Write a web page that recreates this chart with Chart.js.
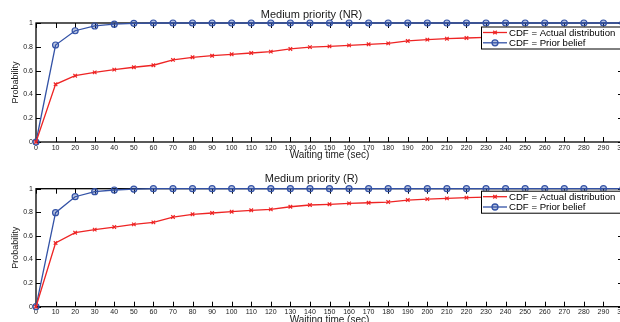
<!DOCTYPE html>
<html>
<head>
<meta charset="utf-8">
<script src="https://cdn.jsdelivr.net/npm/chart.js@4.4.1/dist/chart.umd.min.js"></script>
<style>
  html, body { margin: 0; padding: 0; background: #fff; }
  body { width: 620px; height: 322px; overflow: hidden; position: relative; }
  canvas { position: absolute; left: 0; }
  #chartNR { top: 0; }
  #chartR { top: 161px; }
</style>
</head>
<body>
<canvas id="chartNR" width="660" height="161"></canvas>
<canvas id="chartR" width="660" height="170"></canvas>
<script>
// waiting time (sec) on the x axis
const waitTimes = [0, 10, 20, 30, 40, 50, 60, 70, 80, 90, 100, 110, 120, 130, 140, 150,
                   160, 170, 180, 190, 200, 210, 220, 230, 240, 250, 260, 270, 280, 290, 300];

// Medium priority (NR)
const actualNR = [0, 0.485, 0.557, 0.585, 0.608, 0.628, 0.645, 0.69, 0.712, 0.725, 0.737,
                  0.748, 0.759, 0.782, 0.797, 0.804, 0.812, 0.821, 0.829, 0.849, 0.86,
                  0.868, 0.874, 0.88, 0.885, 0.89, 0.895, 0.899, 0.903, 0.907, 0.91];
const priorNR = [0, 0.815, 0.935, 0.975, 0.99, 0.997, 1, 1, 1, 1, 1, 1, 1, 1, 1, 1,
                 1, 1, 1, 1, 1, 1, 1, 1, 1, 1, 1, 1, 1, 1, 1];

// Medium priority (R)
const actualR = [0, 0.54, 0.627, 0.653, 0.675, 0.698, 0.715, 0.76, 0.783, 0.794, 0.805,
                 0.817, 0.825, 0.847, 0.862, 0.868, 0.876, 0.881, 0.887, 0.904, 0.912,
                 0.918, 0.924, 0.928, 0.932, 0.936, 0.94, 0.943, 0.946, 0.949, 0.952];
const priorR = [0, 0.797, 0.932, 0.975, 0.989, 0.997, 1, 1, 1, 1, 1, 1, 1, 1, 1, 1,
                1, 1, 1, 1, 1, 1, 1, 1, 1, 1, 1, 1, 1, 1, 1];

const seriesLabels = ['CDF = Actual distribution', 'CDF = Prior belief'];
const yTickValues = [0, 0.2, 0.4, 0.6, 0.8, 1];
const yTickLabels = ['0', '0.2', '0.4', '0.6', '0.8', '1'];

const RED = '#ee2424';
const BLUE = '#3352a6';
const FONT = "'Liberation Sans', Arial, Helvetica, sans-serif";

// matlab style box, inward ticks and legend inside the axes
const matlabFrame = {
    id: 'matlabFrame',
    beforeDatasetsDraw(chart) {
        const ctx = chart.ctx;
        const a = chart.chartArea;
        const x = chart.scales.x, y = chart.scales.y;
        ctx.save();
        ctx.strokeStyle = '#000';
        ctx.lineWidth = 1;
        ctx.beginPath();
        x.ticks.forEach(t => {
            const px = Math.round(x.getPixelForValue(t.value)) + 0.5;
            ctx.moveTo(px, a.bottom); ctx.lineTo(px, a.bottom - 5);
            ctx.moveTo(px, a.top); ctx.lineTo(px, a.top + 5);
        });
        y.ticks.forEach(t => {
            const py = Math.round(y.getPixelForValue(t.value)) + 0.5;
            ctx.moveTo(a.left, py); ctx.lineTo(a.left + 5, py);
            ctx.moveTo(a.right, py); ctx.lineTo(a.right - 5, py);
        });
        ctx.stroke();
        ctx.lineWidth = 1.3;
        ctx.strokeRect(a.left, a.top, a.right - a.left, a.bottom - a.top);
        ctx.restore();
    },
    afterDraw(chart, args, opts) {
        const ctx = chart.ctx;
        const a = chart.chartArea;
        const bx = a.right - 142, by = a.top + opts.legendOffset;
        ctx.save();
        ctx.fillStyle = '#fff';
        ctx.fillRect(bx, by, 160, 22.5);
        ctx.strokeStyle = '#000';
        ctx.lineWidth = 1;
        ctx.strokeRect(bx + 0.5, by + 0.5, 160, 22);
        chart.data.datasets.forEach((ds, i) => {
            const cy = by + 6 + i * 10.3;
            ctx.strokeStyle = ds.borderColor;
            ctx.lineWidth = ds.borderWidth;
            ctx.beginPath();
            ctx.moveTo(bx + 2, cy); ctx.lineTo(bx + 26, cy);
            ctx.stroke();
            ctx.fillStyle = ds.pointBackgroundColor;
            Chart.helpers.drawPoint(ctx, {
                pointStyle: ds.pointStyle, radius: ds.pointRadius,
                borderWidth: ds.pointBorderWidth, rotation: 0
            }, bx + 14, cy);
            ctx.fillStyle = '#000';
            ctx.font = '9.6px ' + FONT;
            ctx.textBaseline = 'middle';
            ctx.fillText(ds.label, bx + 28, cy + 0.5);
        });
        ctx.restore();
    }
};

function makeChart(id, title, actual, prior, lay) {
    const toPts = arr => waitTimes.map((t, i) => ({ x: t, y: arr[i] }));
    return new Chart(document.getElementById(id), {
        type: 'line',
        data: {
            datasets: [{
                label: seriesLabels[0],
                data: toPts(actual),
                borderColor: RED,
                borderWidth: 1.3,
                pointStyle: 'crossRot',
                pointRadius: 2.5,
                pointBorderWidth: 1.2,
                pointBorderColor: RED,
                pointBackgroundColor: RED,
                clip: false
            }, {
                label: seriesLabels[1],
                data: toPts(prior),
                borderColor: BLUE,
                borderWidth: 1.3,
                pointStyle: 'circle',
                pointRadius: 3,
                pointBorderWidth: 1.2,
                pointBorderColor: BLUE,
                pointBackgroundColor: 'rgba(51,82,166,0.35)',
                clip: false
            }]
        },
        options: {
            responsive: false,
            animation: false,
            layout: { padding: { left: 0, right: 37, top: 0, bottom: 0 } },
            plugins: {
                legend: { display: false },
                tooltip: { enabled: false },
                title: {
                    display: true,
                    text: title,
                    color: '#1a1a1a',
                    font: { family: FONT, size: 11, weight: 'normal', lineHeight: 1.2 },
                    padding: { top: lay.titleTop, bottom: lay.titleBottom }
                },
                matlabFrame: { legendOffset: lay.legendOffset }
            },
            scales: {
                x: {
                    type: 'linear',
                    min: 0, max: 300,
                    afterFit: s => { s.height = lay.xHeight; },
                    grid: { display: false, drawTicks: false },
                    border: { display: false },
                    ticks: {
                        stepSize: 10, autoSkip: false, maxRotation: 0,
                        padding: lay.xTickPad,
                        color: '#1a1a1a',
                        font: { family: FONT, size: 7 }
                    },
                    title: {
                        display: true,
                        text: 'Waiting time (sec)',
                        color: '#1a1a1a',
                        font: { family: FONT, size: 10, lineHeight: 1 },
                        padding: { top: 0, bottom: lay.xTitlePad }
                    }
                },
                y: {
                    type: 'linear',
                    min: 0, max: 1,
                    afterFit: s => { s.width = 36; },
                    afterBuildTicks: s => { s.ticks = yTickValues.map(v => ({ value: v })); },
                    grid: { display: false, drawTicks: false },
                    border: { display: false },
                    ticks: {
                        padding: 3,
                        color: '#1a1a1a',
                        font: { family: FONT, size: 7 },
                        callback: v => yTickLabels[yTickValues.indexOf(v)]
                    },
                    title: {
                        display: true,
                        text: 'Probability',
                        color: '#1a1a1a',
                        font: { family: FONT, size: 9, lineHeight: 1 },
                        padding: { top: 11, bottom: 0 }
                    }
                }
            }
        },
        plugins: [matlabFrame]
    });
}

makeChart('chartNR', 'Medium priority (NR)', actualNR, priorNR,
    { titleTop: 8, titleBottom: 1.8, xHeight: 19, xTickPad: 2, xTitlePad: 1, legendOffset: 3.5 });
makeChart('chartR', 'Medium priority (R)', actualR, priorR,
    { titleTop: 11.6, titleBottom: 2.9, xHeight: 24.3, xTickPad: 1, xTitlePad: 6, legendOffset: 2 });
</script>
</body>
</html>
